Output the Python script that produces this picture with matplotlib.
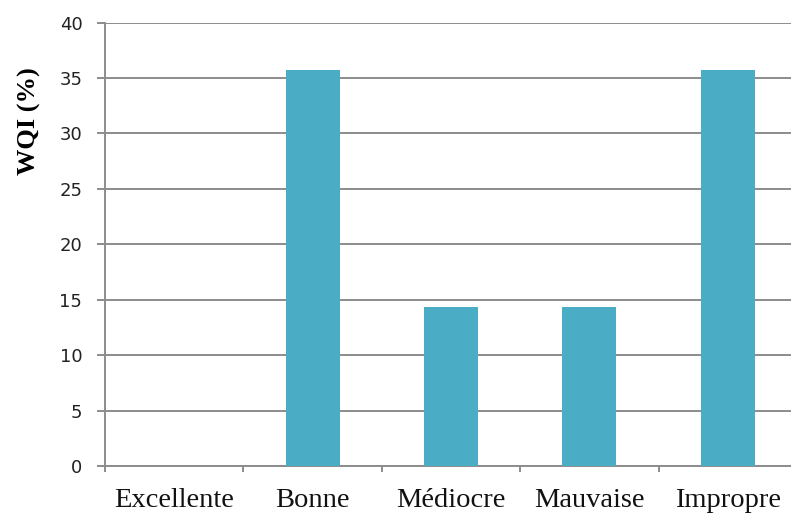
import matplotlib
matplotlib.use("Agg")
import matplotlib.pyplot as plt

categories = ["Excellente", "Bonne", "Médiocre", "Mauvaise", "Impropre"]
wqi_pct = [0, 35.7, 14.3, 14.3, 35.7]
y_ticks = [0, 5, 10, 15, 20, 25, 30, 35, 40]

fig = plt.figure(figsize=(7.91, 5.15), dpi=100)
ax = fig.add_axes([105 / 791, 49 / 515, 692 / 791, 443.5 / 515])

grid_col = "#8c8c8c"
x = list(range(len(categories)))
ax.bar(x, wqi_pct, width=0.39, color="#4bacc6", zorder=3)

ax.set_xlim(-0.5, len(categories) - 0.5)
ax.set_ylim(0, 40)
ax.set_yticks(y_ticks)
ax.yaxis.grid(True, color=grid_col, linewidth=1.4, zorder=0)

# category separators as major ticks, names as minor tick labels
ax.set_xticks([i + 0.5 for i in x[:-1]] + [-0.5])
ax.set_xticklabels([])
ax.set_xticks(x, minor=True)
ax.set_xticklabels(categories, minor=True, family="Liberation Serif", fontsize=20.5, color="#111111")
ax.tick_params(axis="x", which="minor", length=0, pad=16)
ax.tick_params(axis="x", which="major", length=4.5, width=1.4, color=grid_col)
ax.tick_params(axis="y", length=5.8, width=1.4, color=grid_col, labelsize=13, pad=10.5, labelcolor="#222222")

for s in ["top", "right"]:
    ax.spines[s].set_visible(False)
for s in ["left", "bottom"]:
    ax.spines[s].set_color(grid_col)
    ax.spines[s].set_linewidth(1.4)

ax.set_ylabel("WQI (%)", family="Liberation Serif", fontweight="bold", fontsize=19)
ax.yaxis.set_label_coords(-0.092, 0.778)

fig.savefig("out.png", dpi=100)
